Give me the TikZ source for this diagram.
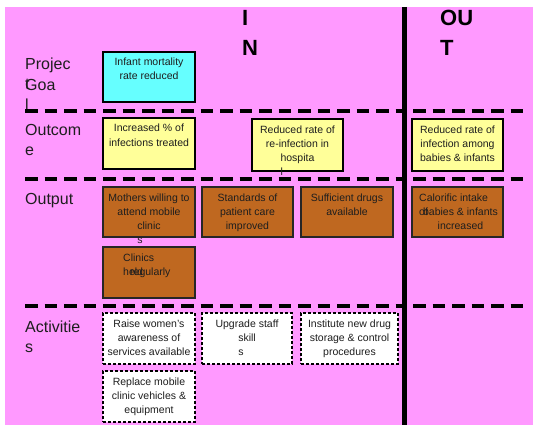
\documentclass[tikz,border=0pt]{standalone}
\usepackage{fontspec}
\setmainfont{Liberation Sans}
\definecolor{pinkbg}{RGB}{255,153,255}
\definecolor{cyanbox}{RGB}{102,255,255}
\definecolor{yellowbox}{RGB}{255,255,153}
\definecolor{brownbox}{RGB}{191,104,32}
\definecolor{inkc}{RGB}{30,30,30}
\begin{document}
\begin{tikzpicture}[x=1pt,y=-1pt,
  boxbase/.style={draw=black,line width=2pt,inner sep=0pt,rectangle},
  goalbox/.style={boxbase,fill=cyanbox},
  outcomebox/.style={boxbase,fill=yellowbox},
  outputbox/.style={boxbase,draw=black!85,fill=brownbox},
  actbox/.style={draw=black,fill=white,line width=1.1pt,dash pattern=on 3pt off 2pt,inner sep=0pt,rectangle},
  boxtext/.style={inner sep=0pt,align=center,text=inkc,font=\fontsize{10.5}{14}\selectfont},
  boxtextl/.style={boxtext,align=left},
  rowlabel/.style={inner sep=0pt,align=left,anchor=north west,text=inkc,font=\fontsize{16}{20}\selectfont},
  heading/.style={inner sep=0pt,align=left,anchor=north west,text=black,font=\fontsize{22}{30}\selectfont\bfseries},
  sepline/.style={line width=4pt,dash pattern=on 12.5pt off 7pt},
]
\useasboundingbox (0,0) rectangle (533,428);
\fill[pinkbg] (5,7) rectangle (533,425);

% headings
\node[heading] (hin) at (242,4) {\strut I\\N};
\node[heading] (hout) at (440,4) {\strut OU\\T};

% row labels
\node[rowlabel] (lproj) at (25,55) {\strut Projec\\t};
\node[rowlabel] (lgoal) at (25,76) {\strut Goa\\l};
\node[rowlabel] (lout) at (25,121) {\strut Outcom\\e};
\node[rowlabel] (loutp) at (25,190) {\strut Output};
\node[rowlabel] (lact) at (25,318) {\strut Activitie\\s};

% goal
\node[goalbox,minimum width=92pt,minimum height=50pt] (g1) at (149,77) {};
\node[boxtext,anchor=north] (g1t) at ([yshift=-5pt]g1.north) {\strut Infant mortality\\rate reduced};

% outcomes
\node[outcomebox,minimum width=92pt,minimum height=51pt] (y1) at (149,143.5) {};
\node[boxtext,anchor=north] (y1t) at ([yshift=-5pt]y1.north) {\strut Increased \% of\\infections treated};
\node[outcomebox,minimum width=91pt,minimum height=52pt] (y2) at (297.5,145) {};
\node[boxtext,anchor=north] (y2t) at ([yshift=-5pt]y2.north) {\strut Reduced rate of\\re-infection in\\\begin{tabular}[t]{@{}l@{}}hospita\\l\end{tabular}};
\node[outcomebox,minimum width=91pt,minimum height=52pt] (y3) at (457.5,145) {};
\node[boxtext,anchor=north] (y3t) at ([yshift=-5pt]y3.north) {\strut Reduced rate of\\infection among\\babies \& infants};

% outputs
\node[outputbox,minimum width=92pt,minimum height=50pt] (b1) at (149,212) {};
\node[boxtext,anchor=north] (b1t) at ([yshift=-5pt]b1.north) {\strut Mothers willing to\\attend mobile\\\begin{tabular}[t]{@{}l@{}}clinic\\s\end{tabular}};
\node[outputbox,minimum width=91pt,minimum height=50pt] (b2) at (247.5,212) {};
\node[boxtext,anchor=north] (b2t) at ([yshift=-5pt]b2.north) {\strut Standards of\\patient care\\improved};
\node[outputbox,minimum width=92pt,minimum height=50pt] (b3) at (347,212) {};
\node[boxtext,anchor=north] (b3t) at ([yshift=-5pt]b3.north) {\strut Sufficient drugs\\available};
\node[outputbox,minimum width=91pt,minimum height=50pt] (b4) at (457.5,212) {};
\node[boxtextl,anchor=north west] (b4t) at ([shift={(8,5)}]b4.north west) {\strut Calorific intake\\of};
\node[boxtext,anchor=north] (b4u) at ([shift={(3,19)}]b4.north) {\strut babies \& infants\\increased};
\node[outputbox,minimum width=92pt,minimum height=51pt] (b5) at (149,272.5) {};
\node[boxtextl,anchor=north west] (b5t) at ([shift={(21,5)}]b5.north west) {\strut Clinics\\held};
\node[boxtextl,anchor=north west] (b5u) at ([shift={(28,19)}]b5.north west) {\strut regularly};

% activities
\node[actbox,minimum width=92pt,minimum height=51pt] (a1) at (149,338.5) {};
\node[boxtext,anchor=north] (a1t) at ([yshift=-5pt]a1.north) {\strut Raise women’s\\awareness of\\services available};
\node[actbox,minimum width=90pt,minimum height=51pt] (a2) at (247,338.5) {};
\node[boxtext,anchor=north] (a2t) at ([yshift=-5pt]a2.north) {\strut Upgrade staff\\\begin{tabular}[t]{@{}l@{}}skill\\s\end{tabular}};
\node[actbox,minimum width=97pt,minimum height=51pt] (a3) at (349.5,338.5) {};
\node[boxtext,anchor=north] (a3t) at ([yshift=-5pt]a3.north) {\strut Institute new drug\\storage \& control\\procedures};
\node[actbox,minimum width=92pt,minimum height=51pt] (a4) at (149,396.5) {};
\node[boxtext,anchor=north] (a4t) at ([yshift=-5pt]a4.north) {\strut Replace mobile\\clinic vehicles \&\\equipment};

% separators
\coordinate (vt) at (404.5,7);
\coordinate (vb) at (404.5,425);
\draw[line width=5pt] (vt) -- (vb);
\foreach \yy/\nm in {111/s1,179/s2,306/s3}{
  \coordinate (\nm a) at (25,\yy);
  \coordinate (\nm b) at (403,\yy);
  \coordinate (\nm c) at (413,\yy);
  \coordinate (\nm d) at (528,\yy);
  \draw[sepline] (\nm a) -- (\nm b);
  \draw[sepline] (\nm c) -- (\nm d);
}
\end{tikzpicture}
\end{document}
